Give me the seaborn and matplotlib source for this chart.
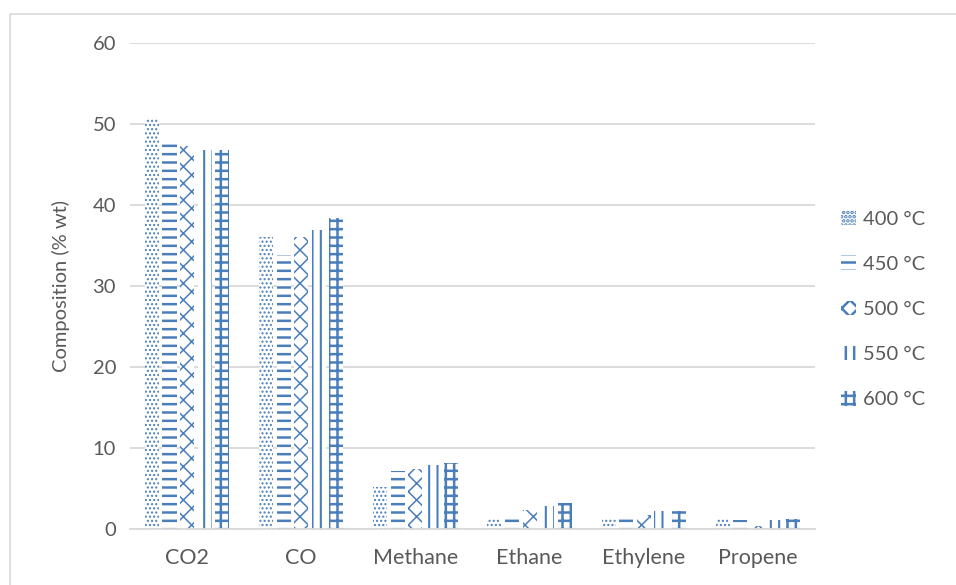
import matplotlib
matplotlib.use("Agg")
import matplotlib.pyplot as plt
from matplotlib.patches import Patch, Rectangle
import pandas as pd
import seaborn as sns

# Gas composition by pyrolysis temperature
categories = ["CO2", "CO", "Methane", "Ethane", "Ethylene", "Propene"]
temperatures = ["400 °C", "450 °C", "500 °C", "550 °C", "600 °C"]
comp_400 = [50.6, 36.0, 5.2, 1.4, 1.3, 1.4]
comp_450 = [47.6, 33.8, 7.1, 1.9, 1.7, 1.1]
comp_500 = [47.3, 36.0, 7.4, 2.4, 1.7, 0.4]
comp_550 = [46.8, 36.9, 7.9, 2.9, 2.2, 1.1]
comp_600 = [46.8, 38.4, 8.1, 3.2, 2.2, 1.2]
y_ticks = [0, 10, 20, 30, 40, 50, 60]

series = [comp_400, comp_450, comp_500, comp_550, comp_600]
rows = []
for temp, vals in zip(temperatures, series):
    for cat, v in zip(categories, vals):
        rows.append({"Gas": cat, "Temperature": temp, "Composition": v})
df = pd.DataFrame(rows)

sns.set_theme(style="white")
plt.rcParams["font.family"] = ["Lato", "DejaVu Sans"]
plt.rcParams["hatch.linewidth"] = 1.8

BLUE = "#4a7ebb"
GRID = "#d9d9d9"
TEXT = "#595959"
hatches = ["....", "--", "xx", "||", "++"]
hatch_widths = [1.0, 1.8, 1.1, 1.5, 1.8]


def style_bar(bar, h, lw):
    bar.set_facecolor("white")
    bar.set_edgecolor(BLUE)
    bar.set_linewidth(0)
    bar.set_hatch(h)
    if hasattr(bar, "set_hatch_linewidth"):
        bar.set_hatch_linewidth(lw)


fig = plt.figure(figsize=(9.56, 5.85), dpi=100)
fig.patches.append(Rectangle((10 / 956, -0.1), 1.2, (585 - 14) / 585 + 0.1,
                             transform=fig.transFigure, fill=False,
                             edgecolor=GRID, linewidth=1.2))
ax = fig.add_axes([130 / 956, (585 - 529) / 585, (815 - 130) / 956, (529 - 43) / 585])

sns.barplot(data=df, x="Gas", y="Composition", hue="Temperature",
            order=categories, hue_order=temperatures, width=0.77, gap=0.2,
            palette=["white"] * 5, ax=ax, errorbar=None, legend=False)

for container, h, lw in zip(ax.containers, hatches, hatch_widths):
    for bar in container:
        style_bar(bar, h, lw)

ax.set_ylim(0, 60)
ax.set_yticks(y_ticks)
ax.set_xlim(-0.5, len(categories) - 0.5)
ax.yaxis.grid(True, color=GRID, linewidth=1.3)
ax.set_axisbelow(True)
for side in ["top", "right", "left"]:
    ax.spines[side].set_visible(False)
ax.spines["bottom"].set_color(GRID)
ax.spines["bottom"].set_linewidth(1.3)
ax.tick_params(axis="both", length=0, labelcolor=TEXT)
ax.tick_params(axis="x", pad=14, labelsize=15.5)
ax.tick_params(axis="y", pad=10, labelsize=14.5)
ax.set_xlabel("")
ax.set_ylabel("Composition (% wt)", fontsize=14.5, color=TEXT, labelpad=16)

handles = []
for h, lw, t in zip(hatches, hatch_widths, temperatures):
    p = Patch(label=t)
    style_bar(p, h, lw)
    handles.append(p)
fig.legend(handles=handles, loc="upper left", bbox_to_anchor=(823 / 956, 1 - 192 / 585),
           frameon=False, fontsize=14.5, labelcolor=TEXT, handlelength=0.75,
           handleheight=0.75, handletextpad=0.35, labelspacing=1.38)

fig.savefig("out.png", dpi=100, facecolor="white")
